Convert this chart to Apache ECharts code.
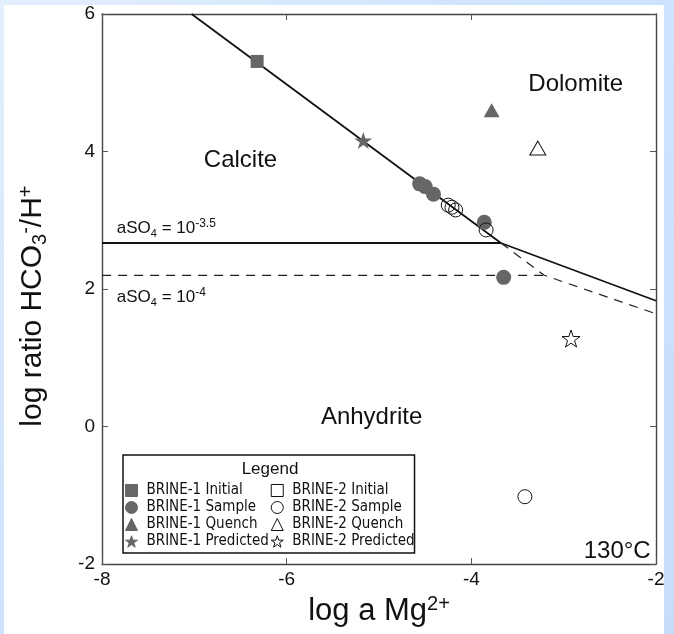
<!DOCTYPE html>
<html>
<head>
<meta charset="utf-8">
<script src="https://cdn.jsdelivr.net/npm/echarts@6/dist/echarts.min.js"></script>
<style>
    html, body { margin: 0; padding: 0; }
    body {
        width: 674px; height: 634px; position: relative; overflow: hidden;
        background: linear-gradient(135deg, #e3effd 0%, #cfe4fd 40%, #c6defc 100%);
    }
    #panel { position: absolute; left: 4px; top: 5px; width: 660px; height: 629px; background: #fff; }
    #chart { position: absolute; left: 0; top: 0; width: 674px; height: 634px; }
</style>
</head>
<body>
<div id="panel"></div>
<div id="chart"></div>
<script>
// phase boundaries [log a Mg2+, log ratio HCO3-/H+]
const calciteDolomiteLine = [[-7.03, 6], [-3.68, 2.67], [-2, 1.83]];
const anhydriteLineHigh = [[-8, 2.67], [-3.68, 2.67]];   // aSO4 = 10^-3.5
const anhydriteLineLow = [[-8, 2.2], [-3.21, 2.2]];      // aSO4 = 10^-4
const dolomiteLineLow = [[-3.68, 2.67], [-3.21, 2.2], [-2, 1.64]];

// measured / predicted points
const brine1Initial = [[-6.32, 5.31]];
const brine1Sample = [[-4.56, 3.53], [-4.50, 3.49], [-4.41, 3.38], [-3.86, 2.97], [-3.65, 2.17]];
const brine1Quench = [[-3.78, 4.60]];
const brine1Predicted = [[-5.17, 4.16]];
const brine2Initial = [];
const brine2Sample = [[-4.25, 3.22], [-4.21, 3.19], [-4.17, 3.15], [-3.84, 2.86], [-3.42, -1.02]];
const brine2Quench = [[-3.28, 4.05]];
const brine2Predicted = [[-2.92, 1.28]];

// text in the diagram
const regionNames = ["Calcite", "Dolomite", "Anhydrite", "130°C"];
const regionX = [-6.5, -2.87, -5.08, -2.42];
const regionY = [3.87, 4.97, 0.14, -1.81];
const so4Labels = ["aSO{sub|4} = 10{sup|-3.5}", "aSO{sub|4} = 10{sup|-4}"];
const so4X = [-7.84, -7.84];
const so4Y = [2.88, 1.88];

const xTicks = { min: -8, max: -2, interval: 2 };
const yTicks = { min: -2, max: 6, interval: 2 };

const legendNames = [
    "BRINE-1 Initial", "BRINE-1 Sample", "BRINE-1 Quench", "BRINE-1 Predicted",
    "BRINE-2 Initial", "BRINE-2 Sample", "BRINE-2 Quench", "BRINE-2 Predicted"
];

const font = "'Liberation Sans', Arial, sans-serif";
const narrowFont = "'Liberation Sans Narrow', 'DejaVu Sans Condensed', sans-serif";
const gray = "#666666";
const star = "path://M50 0 L61.23 34.55 L97.55 34.55 L68.16 55.9 L79.39 90.45 L50 69.1 L20.61 90.45 L31.84 55.9 L2.45 34.55 L38.77 34.55 Z";
const filled = { color: gray, borderColor: gray, borderWidth: 0, opacity: 1 };
const hollow = { color: "rgba(0,0,0,0)", borderColor: "#111", borderWidth: 1, opacity: 1 };

const boundary = (data, dashed) => ({
    type: "line",
    data: data,
    symbol: "none",
    silent: true,
    z: 1,
    lineStyle: dashed
        ? { color: "#222", width: 1.2, type: [9, 7] }
        : { color: "#111", width: 1.8 },
});

const points = (name, data, symbol, size, style) => ({
    name: name,
    type: "scatter",
    data: data,
    symbol: symbol,
    symbolSize: size,
    symbolKeepAspect: true,
    itemStyle: style,
    z: 3,
});

const tickStyle = { show: true, inside: true, length: 6, lineStyle: { color: "#555", width: 1 } };
const lineStyle = { show: true, onZero: false, lineStyle: { color: "#444", width: 1.4 } };

const chart = echarts.init(document.getElementById("chart"));
chart.setOption({
    animation: false,
    textStyle: { fontFamily: font },
    grid: { left: 102, right: 18, top: 14, bottom: 66 },
    xAxis: [
        {
            type: "value", ...xTicks, position: "bottom",
            axisLine: lineStyle, axisTick: tickStyle, splitLine: { show: false },
            axisLabel: { fontSize: 19, color: "#111", margin: 6 },
            name: "log a Mg{sup|2+}",
            nameLocation: "middle",
            nameGap: 19,
            nameTextStyle: {
                fontSize: 31, color: "#111", lineHeight: 35,
                rich: { sup: { fontSize: 20, lineHeight: 20, verticalAlign: "top", color: "#111" } },
            },
        },
        {
            type: "value", ...xTicks, position: "top",
            axisLine: lineStyle, axisTick: tickStyle, splitLine: { show: false },
            axisLabel: { show: false },
        },
    ],
    yAxis: [
        {
            type: "value", ...yTicks, position: "left",
            axisLine: lineStyle, axisTick: tickStyle, splitLine: { show: false },
            axisLabel: { fontSize: 19, color: "#111", margin: 7 },
            name: "log ratio HCO{sub|3}{sup|-}/H{sup|+}",
            nameLocation: "middle",
            nameRotate: 90,
            nameGap: 52,
            nameTextStyle: {
                fontSize: 30, color: "#111", lineHeight: 34,
                padding: [0, 34, 0, 0],
                rich: {
                    sup: { fontSize: 20, lineHeight: 20, verticalAlign: "top", color: "#111" },
                    sub: { fontSize: 20, lineHeight: 17, verticalAlign: "bottom", color: "#111" },
                },
            },
        },
        {
            type: "value", ...yTicks, position: "right",
            axisLine: lineStyle, axisTick: tickStyle, splitLine: { show: false },
            axisLabel: { show: false },
        },
    ],
    legend: {
        data: legendNames,
        orient: "vertical",
        left: 123,
        top: 455,
        height: 76,
        padding: [28, 0, 4, 2],
        itemWidth: 12,
        itemHeight: 12,
        itemGap: 2,
        borderColor: "#111",
        borderWidth: 1.5,
        selectedMode: false,
        itemStyle: { borderWidth: 1 },
        textStyle: { fontFamily: narrowFont, fontSize: 15, color: "#111", padding: [0, 2, 0, 4] },
    },
    graphic: [
        {
            type: "text", x: 270, y: 469, silent: true,
            style: { text: "Legend", font: "17px " + font, fill: "#111", align: "center", verticalAlign: "middle" },
        },
    ],
    series: [
        boundary(calciteDolomiteLine, false),
        boundary(anhydriteLineHigh, false),
        boundary(anhydriteLineLow, true),
        boundary(dolomiteLineLow, true),
        points("BRINE-1 Initial", brine1Initial, "rect", 13, filled),
        points("BRINE-1 Sample", brine1Sample, "circle", 15, filled),
        points("BRINE-1 Quench", brine1Quench, "triangle", [16, 14], filled),
        points("BRINE-1 Predicted", brine1Predicted, star, 18, filled),
        points("BRINE-2 Initial", brine2Initial, "rect", 13, hollow),
        points("BRINE-2 Sample", brine2Sample, "circle", 14, hollow),
        points("BRINE-2 Quench", brine2Quench, "triangle", [16, 14], hollow),
        points("BRINE-2 Predicted", brine2Predicted, star, 18, hollow),
        {
            // field names
            type: "scatter", silent: true, symbolSize: 0, z: 4,
            itemStyle: { opacity: 1 },
            data: regionNames.map((n, i) => ({ name: n, value: [regionX[i], regionY[i]] })),
            label: {
                show: true, position: [0, 0], align: "center", verticalAlign: "middle",
                formatter: "{b}", fontSize: 24, color: "#111", textBorderWidth: 0,
            },
        },
        {
            // sulfate activity labels
            type: "scatter", silent: true, symbolSize: 0, z: 4,
            itemStyle: { opacity: 1 },
            data: so4Labels.map((n, i) => ({ name: n, value: [so4X[i], so4Y[i]] })),
            label: {
                show: true, position: "right", distance: 0, formatter: "{b}",
                fontSize: 17, color: "#111", lineHeight: 22, textBorderWidth: 0,
                rich: {
                    sub: { fontSize: 11, lineHeight: 11, verticalAlign: "bottom", color: "#111" },
                    sup: { fontSize: 12, lineHeight: 12, verticalAlign: "top", color: "#111" },
                },
            },
        },
    ],
});
</script>
</body>
</html>
